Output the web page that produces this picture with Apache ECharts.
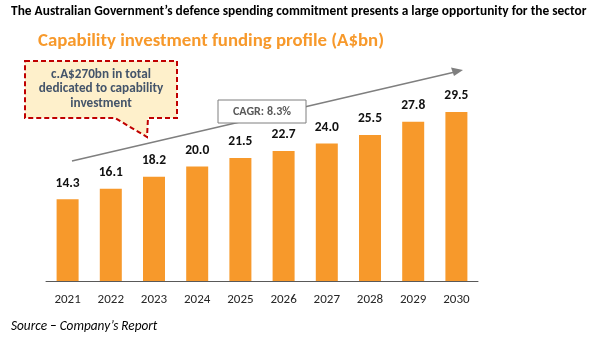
<!DOCTYPE html>
<html><head><meta charset="utf-8">
<script src="https://cdn.jsdelivr.net/npm/echarts@6/dist/echarts.min.js"></script>
<style>html,body{margin:0;padding:0;background:#fff}#c{width:600px;height:337px}</style>
</head><body><div id="c"></div>
<script>
var years = ['2021','2022','2023','2024','2025','2026','2027','2028','2029','2030'];
var funding = [14.3, 16.1, 18.2, 20.0, 21.5, 22.7, 24.0, 25.5, 27.8, 29.5];
var titleText = 'The Australian Government\u2019s defence spending commitment presents a large opportunity for the sector';
var subTitle = 'Capability investment funding profile (A$bn)';
var calloutText = 'c.A$270bn in total\ndedicated to capability\ninvestment';
var cagrText = 'CAGR: 8.3%';
var sourceText = 'Source \u2013 Company\u2019s Report';

var chart = echarts.init(document.getElementById('c'));
var font = 'Calibri, Carlito, Lato, sans-serif';
chart.setOption({
  animation: false,
  textStyle: {fontFamily: font},
  grid: {left: 46, right: 122, top: 52, bottom: 56},
  xAxis: {
    type: 'category', data: years,
    axisLine: {lineStyle: {color: '#595959', width: 1}},
    axisTick: {show: false},
    axisLabel: {color: '#262626', fontSize: 13, margin: 12, fontFamily: font}
  },
  yAxis: {type: 'value', min: 0, max: 40, show: false, splitLine: {show: false}},
  series: [{
    type: 'bar', data: funding, barWidth: 22,
    itemStyle: {color: '#F7992B'},
    label: {show: true, position: 'top', distance: 9, color: '#111', fontWeight: 'bold', fontSize: 13.5, fontFamily: font,
      formatter: function(p){ return p.value.toFixed(1); }}
  }],
  graphic: [
    {type: 'text', left: 11, top: 5, style: {text: titleText, fill: '#000', font: 'bold 13.4px ' + font}},
    {type: 'text', left: 38, top: 32, style: {text: subTitle, fill: '#F7992B', font: 'bold 18.8px ' + font}},
    {type: 'line', shape: {x1: 72, y1: 161, x2: 455, y2: 72}, style: {stroke: '#7F7F7F', lineWidth: 1.5}},
    {type: 'polygon', shape: {points: [[463, 70], [451, 67.5], [454, 76]]}, style: {fill: '#7F7F7F'}},
    {type: 'polygon', shape: {points: [[25, 61], [177, 61], [177, 118], [148, 118], [147, 137], [115, 118], [25, 118]]},
      style: {fill: '#FEF0CB', stroke: '#C00000', lineWidth: 2, lineDash: [5, 3]}},
    {type: 'text', x: 101, y: 89, style: {text: calloutText, fill: '#44546A', font: 'bold 13.2px ' + font, align: 'center', verticalAlign: 'middle', lineHeight: 14.5}},
    {type: 'rect', shape: {x: 218, y: 100, width: 88, height: 23}, style: {fill: '#fff', stroke: '#7F7F7F', lineWidth: 1}},
    {type: 'text', x: 262, y: 112, style: {text: cagrText, fill: '#595959', font: 'bold 12px ' + font, align: 'center', verticalAlign: 'middle'}},
    {type: 'text', left: 11, top: 320, style: {text: sourceText, fill: '#000', font: 'italic 13.3px ' + font}}
  ]
});
</script></body></html>
